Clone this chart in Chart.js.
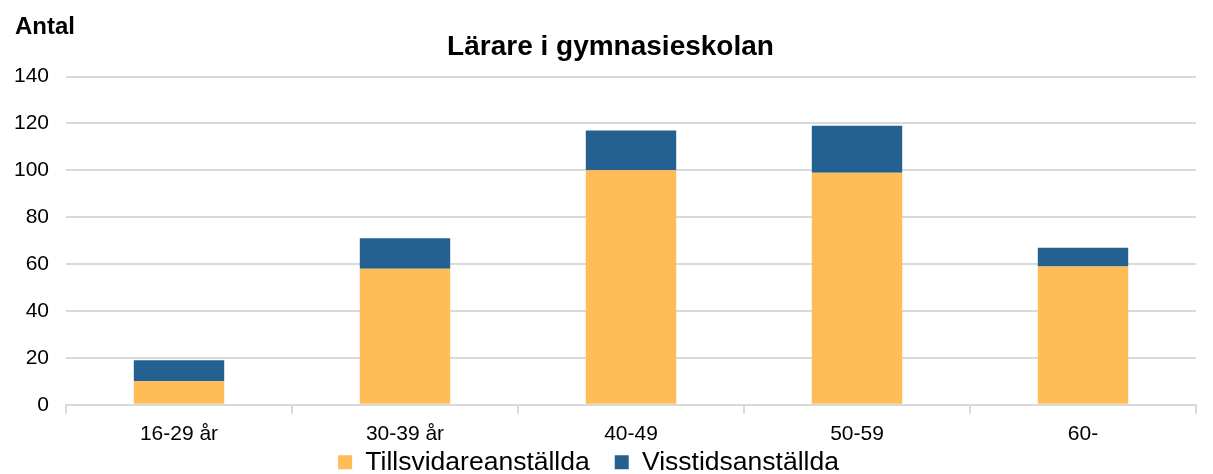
<!doctype html>
<html lang="sv">

<head>
  <meta charset="UTF-8">
  <title>Lärare i gymnasieskolan</title>
  <style>
    html,
    body {
      margin: 0;
      padding: 0;
      background-color: #fff;
    }

    #wrap {
      width: 1213px;
      height: 474px;
    }
  </style>
</head>

<body>
  <div id="wrap">
    <canvas id="datavis"></canvas>
  </div>

  <script src="https://cdn.jsdelivr.net/npm/chart.js@4/dist/chart.umd.min.js"></script>

  <script>
    // values
    const categories = ['16-29 år', '30-39 år', '40-49', '50-59', '60-'];
    const tillsvidare = [10, 58, 100, 99, 59];
    const visstid = [9, 13, 17, 20, 8];
    const yTicks = [0, 20, 40, 60, 80, 100, 120, 140];

    const FONT = "'Liberation Sans', Arial, Helvetica, sans-serif";

    // "Antal" label in the top left corner, and a few nudges of the
    // title / legend boxes after Chart.js has laid them out
    const tweaks = {
      id: 'tweaks',
      afterLayout(chart) {
        const lg = chart.legend;
        lg.top -= 31;
        lg.bottom -= 31;
        lg.left -= 16;
        lg.right -= 16;
        const tb = chart.titleBlock;
        tb.left += 6;
        tb.right += 6;
      },
      afterDraw(chart) {
        const ctx = chart.ctx;
        ctx.save();
        ctx.font = 'bold 24px ' + FONT;
        ctx.fillStyle = '#000';
        ctx.textBaseline = 'middle';
        ctx.textAlign = 'left';
        ctx.fillText('Antal', 15, 27);
        ctx.restore();
      }
    };

    new Chart('datavis', {
      type: 'bar',
      data: {
        labels: categories,
        datasets: [{
          label: 'Tillsvidareanställda',
          data: tillsvidare,
          backgroundColor: '#ffbc57',
          categoryPercentage: 0.4,
          barPercentage: 1.0
        }, {
          label: 'Visstidsanställda',
          data: visstid,
          backgroundColor: '#246190',
          categoryPercentage: 0.4,
          barPercentage: 1.0
        }]
      },
      options: {
        responsive: true,
        maintainAspectRatio: false,
        animation: false,
        layout: {
          padding: { left: 13, right: 17, top: 0, bottom: -42.5 }
        },
        plugins: {
          title: {
            display: true,
            text: 'Lärare i gymnasieskolan',
            color: '#000',
            font: { family: FONT, size: 28, weight: 'bold' },
            padding: { top: 30, bottom: 13 }
          },
          legend: {
            display: true,
            position: 'bottom',
            labels: {
              color: '#000',
              font: { family: FONT, size: 26.5 },
              boxWidth: 14,
              boxHeight: 14,
              padding: 25
            }
          },
          tooltip: { enabled: false }
        },
        scales: {
          x: {
            stacked: true,
            grid: {
              offset: true,
              drawOnChartArea: false,
              drawTicks: true,
              tickLength: 9,
              color: '#d9d9d9',
              lineWidth: 2
            },
            border: { color: '#d9d9d9', width: 2 },
            ticks: {
              color: '#000',
              font: { family: FONT, size: 21 },
              padding: 8
            }
          },
          y: {
            stacked: true,
            min: 0,
            max: 140,
            afterBuildTicks(scale) {
              scale.ticks = yTicks.map(v => ({ value: v }));
            },
            afterFit(scale) {
              scale.width = 53;
            },
            grid: {
              drawTicks: false,
              color: '#d9d9d9',
              lineWidth: 2
            },
            border: { display: false },
            ticks: {
              color: '#000',
              font: { family: FONT, size: 21 },
              padding: 17
            }
          }
        }
      },
      plugins: [tweaks]
    });
  </script>
</body>

</html>
